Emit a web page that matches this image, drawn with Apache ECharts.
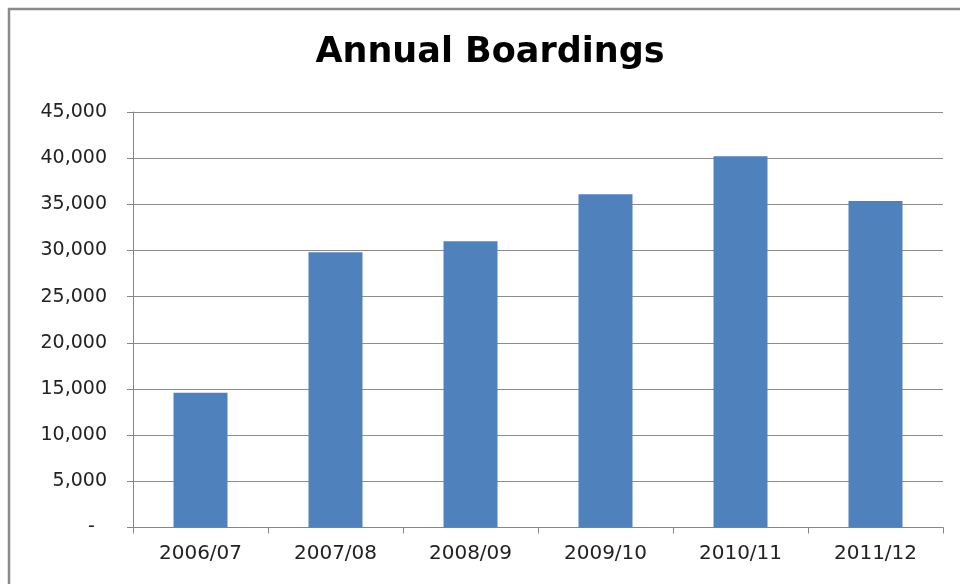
<!DOCTYPE html>
<html>
<head>
<meta charset="utf-8">
<title>Annual Boardings</title>
<script src="https://cdn.jsdelivr.net/npm/echarts@6/dist/echarts.min.js"></script>
<style>
  html, body { margin: 0; padding: 0; background: #ffffff; }
  #chart { width: 960px; height: 584px; }
</style>
</head>
<body>
<div id="chart"></div>
<script>
// Fiscal years on the horizontal axis
const years = ['2006/07', '2007/08', '2008/09', '2009/10', '2010/11', '2011/12'];
// Boardings per year
const boardings = [14600, 29800, 31000, 36100, 40200, 35350];
// Value axis range and step
const axisMax = 45000;
const axisStep = 5000;

const chart = echarts.init(document.getElementById('chart'));

const fmt = v => v === 0 ? '-  ' : v.toLocaleString('en-US');

chart.setOption({
  animation: false,
  backgroundColor: '#ffffff',
  title: {
    text: 'Annual Boardings',
    left: 485,
    top: 30,
    textAlign: 'center',
    textStyle: {
      fontFamily: 'DejaVu Sans',
      fontWeight: 'bold',
      fontSize: 35,
      color: '#000000'
    }
  },
  graphic: [{
    type: 'rect',
    shape: { x: 9, y: 9, width: 1000, height: 700 },
    style: { fill: 'none', stroke: '#8a8a8a', lineWidth: 2.5 },
    silent: true,
    z: 100
  }],
  grid: {
    left: 133,
    right: 17,
    top: 112,
    bottom: 56.5,
    containLabel: false
  },
  xAxis: {
    type: 'category',
    data: years,
    axisLine: { lineStyle: { color: '#868686', width: 1 } },
    axisTick: { show: true, length: 6, lineStyle: { color: '#868686' } },
    axisLabel: {
      margin: 16,
      fontFamily: 'DejaVu Sans',
      fontSize: 20,
      color: '#222222'
    },
    splitLine: { show: false }
  },
  yAxis: {
    type: 'value',
    min: 0,
    max: axisMax,
    interval: axisStep,
    axisLine: { show: true, lineStyle: { color: '#868686', width: 1 } },
    axisTick: { show: true, length: 6, lineStyle: { color: '#868686' } },
    axisLabel: {
      margin: 26,
      fontFamily: 'DejaVu Sans',
      fontSize: 19,
      color: '#222222',
      formatter: fmt
    },
    splitLine: { show: true, lineStyle: { color: '#8c8c8c', width: 1 } }
  },
  series: [{
    type: 'bar',
    data: boardings,
    barWidth: '40%',
    itemStyle: { color: '#4F81BD' }
  }]
});
</script>
</body>
</html>
